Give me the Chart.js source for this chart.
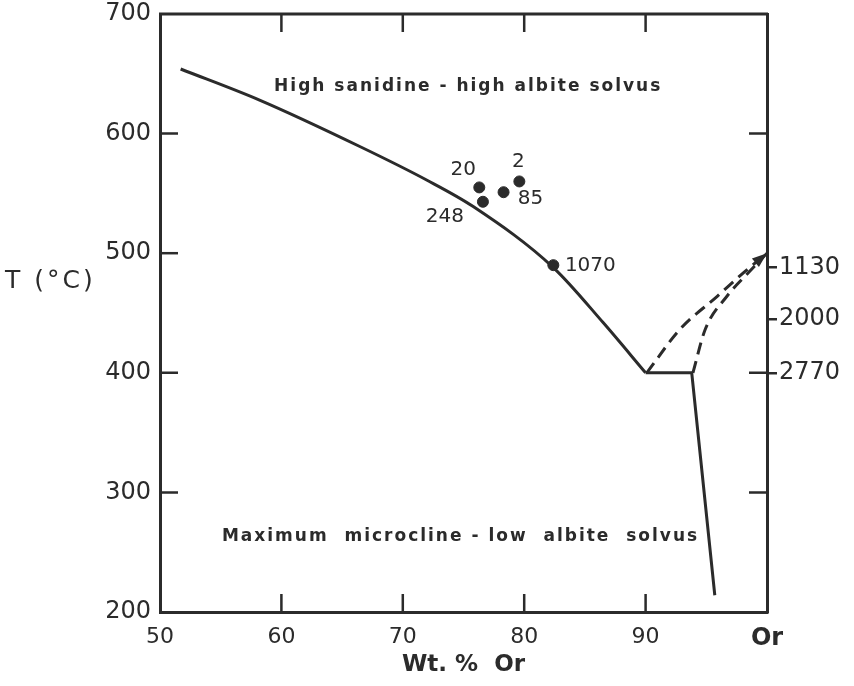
<!DOCTYPE html>
<html>
<head>
<meta charset="utf-8">
<script src="https://cdn.jsdelivr.net/npm/chart.js@4.4.1/dist/chart.umd.min.js"></script>
<style>
    body { margin: 0; background: #fff; }
    #wrap { width: 854px; height: 686px; position: relative; }
</style>
</head>
<body>
<div id="wrap"><canvas id="canvasSolvus"></canvas></div>
<script>
// data (x = wt. % Or, y = T in deg C)
const highSolvusX = [51.7, 58.2, 66.5, 72.0, 75.8, 82.4, 86.5, 90.0]
const highSolvusT = [654, 628, 589, 561, 539, 488, 442, 400]

const lowSolvusX = [90.0, 93.8, 95.7]
const lowSolvusT = [400, 400, 214]

const dashedAX = [90.1, 92.8, 95.9, 98.1, 100]
const dashedAT = [400, 436, 464, 484, 500]

const dashedBX = [93.9, 94.9, 96.7, 98.5, 100]
const dashedBT = [400, 436, 464, 484, 500]

const sampleNames = ["20", "248", "85", "2", "1070"]
const sampleX = [76.3, 76.6, 78.3, 79.6, 82.4]
const sampleT = [555, 543, 551, 560, 490]

const rightTickValues = [488, 445, 400]
const rightTickLabels = ["1130", "2000", "2770"]

const ink = "#2b2b2b"
const font = "'DejaVu Sans'"

const toPoints = (xs, ys) => xs.map((x, i) => ({ x, y: ys[i] }))

//#region plugin
const decorations = {
    id: "decorations",
    afterDatasetsDraw(chart) {
        const { ctx, chartArea: area, scales } = chart
        const x = scales.x, y = scales.y
        ctx.save()
        ctx.strokeStyle = ink
        ctx.fillStyle = ink
        ctx.lineWidth = 3

        // top frame line
        ctx.beginPath()
        ctx.moveTo(area.left - 1, area.top)
        ctx.lineTo(area.right + 1, area.top)
        ctx.stroke()

        // inward ticks
        ctx.lineWidth = 2.5
        const tl = 18
        ;[60, 70, 80, 90].forEach(v => {
            const px = x.getPixelForValue(v)
            ctx.beginPath()
            ctx.moveTo(px, area.bottom); ctx.lineTo(px, area.bottom - tl)
            ctx.moveTo(px, area.top); ctx.lineTo(px, area.top + tl)
            ctx.stroke()
        })
        ;[300, 400, 500, 600].forEach(v => {
            const py = y.getPixelForValue(v)
            ctx.beginPath()
            ctx.moveTo(area.left, py); ctx.lineTo(area.left + tl, py)
            if (v !== 500) { ctx.moveTo(area.right, py); ctx.lineTo(area.right - tl, py) }
            ctx.stroke()
        })

        // arrow head on the dashed curves
        const pts = chart.getDatasetMeta(2).data
        const a = pts[pts.length - 1], b = pts[pts.length - 2]
        const ang = Math.atan2(a.y - b.y, a.x - b.x)
        ctx.beginPath()
        ctx.moveTo(a.x, a.y)
        ctx.lineTo(a.x - 16 * Math.cos(ang - 0.35), a.y - 16 * Math.sin(ang - 0.35))
        ctx.lineTo(a.x - 16 * Math.cos(ang + 0.35), a.y - 16 * Math.sin(ang + 0.35))
        ctx.closePath()
        ctx.fill()

        // sample labels
        const offs = [[-16, -18], [-38, 15], [27, 7], [-1, -20], [37, 1]]
        ctx.font = "20px " + font
        ctx.textAlign = "center"
        ctx.textBaseline = "middle"
        chart.getDatasetMeta(4).data.forEach((p, i) => {
            ctx.fillText(sampleNames[i], p.x + offs[i][0], p.y + offs[i][1])
        })

        // field labels
        ctx.font = "bold 17px " + font
        ctx.letterSpacing = "2px"
        ctx.textAlign = "left"
        ctx.fillText("High sanidine - high albite solvus", x.getPixelForValue(59.4), y.getPixelForValue(639))
        ctx.fillText("Maximum  microcline - low  albite  solvus", x.getPixelForValue(55.1), y.getPixelForValue(263))

        // y title, horizontal as in the figure
        ctx.font = "25px " + font
        ctx.letterSpacing = "3px"
        ctx.fillText("T (°C)", 5, y.getPixelForValue(476))
        ctx.restore()
    }
}
//#endregion

//#region chart
const lineSet = (data, dashed) => ({
    type: "line",
    data,
    borderColor: ink,
    borderWidth: 3,
    borderDash: dashed ? [12, 7] : [],
    pointRadius: 0,
    cubicInterpolationMode: "monotone",
    fill: false
})

new Chart(document.getElementById("canvasSolvus"), {
    data: {
        datasets: [
            lineSet(toPoints(highSolvusX, highSolvusT), false),
            { ...lineSet(toPoints(lowSolvusX, lowSolvusT), false), cubicInterpolationMode: "default", tension: 0 },
            lineSet(toPoints(dashedAX, dashedAT), true),
            lineSet(toPoints(dashedBX, dashedBT), true),
            {
                type: "scatter",
                data: toPoints(sampleX, sampleT),
                backgroundColor: ink,
                borderColor: ink,
                pointRadius: 5.5
            }
        ]
    },
    options: {
        responsive: true,
        maintainAspectRatio: false,
        animation: false,
        layout: { padding: { top: 14, left: 0, right: 0, bottom: 0 } },
        plugins: { legend: { display: false }, tooltip: { enabled: false } },
        scales: {
            x: {
                type: "linear",
                min: 50, max: 100,
                afterFit: s => { s.height = 74 },
                grid: { display: false, drawTicks: false },
                border: { display: true, color: ink, width: 3 },
                ticks: {
                    stepSize: 10,
                    padding: 12,
                    color: ink,
                    maxRotation: 0,
                    font: c => ({ family: font, size: c.tick && c.tick.value === 100 ? 24 : 22, weight: c.tick && c.tick.value === 100 ? "bold" : "normal" }),
                    callback: v => v === 100 ? "Or" : v
                },
                title: {
                    display: true,
                    text: "Wt. %  Or",
                    color: ink,
                    font: { family: font, size: 23, weight: "bold" },
                    padding: { top: 0, bottom: 7 }
                }
            },
            y: {
                type: "linear",
                position: "left",
                min: 200, max: 700,
                afterFit: s => { s.width = 160; s.paddingTop = 0; s.paddingBottom = 0 },
                grid: { display: false, drawTicks: false },
                border: { display: true, color: ink, width: 3 },
                ticks: { stepSize: 100, padding: 9, color: ink, font: { family: font, size: 24 } }
            },
            y2: {
                type: "linear",
                position: "right",
                min: 200, max: 700,
                afterFit: s => { s.width = 87; s.paddingTop = 0; s.paddingBottom = 0 },
                afterBuildTicks: s => { s.ticks = rightTickValues.map(value => ({ value })) },
                grid: { display: true, drawOnChartArea: false, drawTicks: true, tickLength: 10, color: ink, lineWidth: 2.5 },
                border: { display: true, color: ink, width: 3 },
                ticks: {
                    padding: 2,
                    color: ink,
                    font: { family: font, size: 24 },
                    callback: v => rightTickLabels[rightTickValues.indexOf(v)]
                }
            }
        }
    },
    plugins: [decorations]
})
//#endregion
</script>
</body>
</html>
